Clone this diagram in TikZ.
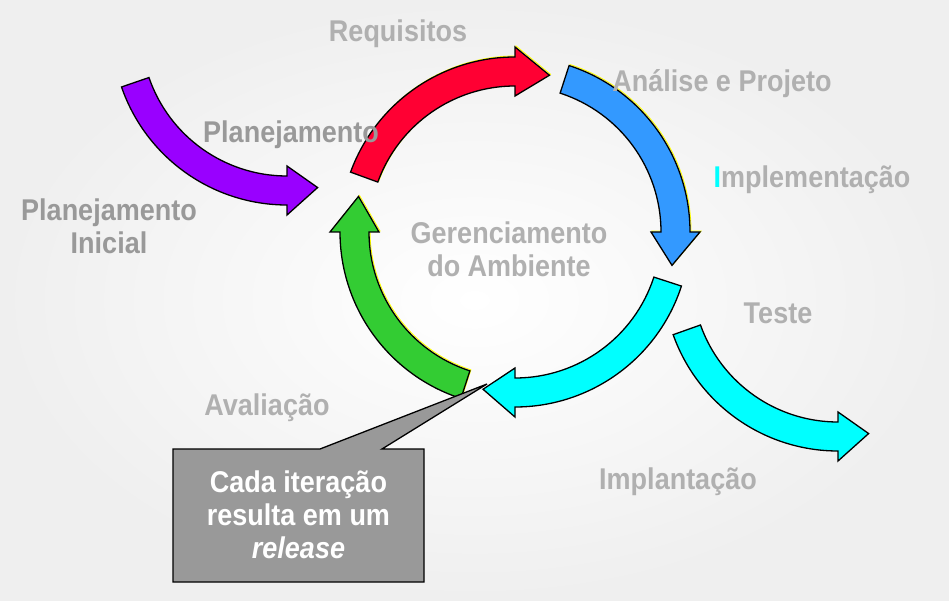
\documentclass[tikz,border=0pt]{standalone}
\usepackage{fontspec}
\setmainfont{Liberation Sans}[FakeStretch=0.9]
\usetikzlibrary{calc}
\definecolor{cred}{RGB}{255,0,51}
\definecolor{cblue}{RGB}{51,153,255}
\definecolor{ccyan}{RGB}{0,255,255}
\definecolor{cgreen}{RGB}{51,204,51}
\definecolor{cpurple}{RGB}{153,0,255}
\definecolor{labgray}{RGB}{176,176,176}
\definecolor{labdark}{RGB}{153,153,153}
\definecolor{boxgray}{RGB}{153,153,153}
\definecolor{bgedge}{RGB}{239,239,239}
\definecolor{shadowyel}{RGB}{255,255,0}
\newcommand{\ringarrow}[5]{%
  \draw[#5, shift={#4}] (#1:175) arc[start angle=#1, end angle=#2, radius=175]
    -- (#2:185) -- (#3:160.5) -- (#2:136) -- (#2:146)
    arc[start angle=#2, end angle=#1, radius=146] -- cycle;}
\tikzset{
  arrowbody/.style={draw=black, line width=1.3pt, line join=miter},
  yelshadow/.style={draw=shadowyel, line width=0.9pt},
  lab/.style={font=\fontsize{30}{33}\selectfont\bfseries, text=labgray, inner sep=0pt, align=center},
  labd/.style={lab, text=labdark},
  callout/.style={fill=boxgray, draw=black, line width=1.3pt},
  calltext/.style={font=\fontsize{30}{33}\selectfont\bfseries, text=white, align=center, inner sep=0pt}
}
\begin{document}
\begin{tikzpicture}[x=1pt,y=1pt]
\useasboundingbox (0,0) rectangle (949,600);
\shade[inner color=white, outer color=bgedge] (0,0) rectangle (949,600);
% cycle arrows (center 515,368)
\ringarrow{160}{90}{77.6}{(516,369)}{yelshadow}
\ringarrow{72}{0}{-12}{(516,369)}{yelshadow}
\ringarrow{-108}{-180}{-192.8}{(516,369)}{yelshadow}
\ringarrow{160}{90}{77.6}{(515,368)}{arrowbody, fill=cred}
\ringarrow{72}{0}{-12}{(515,368)}{arrowbody, fill=cblue}
\ringarrow{-18}{-90}{-101.5}{(515,368)}{arrowbody, fill=ccyan}
\ringarrow{-108}{-180}{-192.8}{(515,368)}{arrowbody, fill=cgreen}
% entry and exit arrows
\ringarrow{199}{270}{281}{(287,570)}{arrowbody, fill=cpurple}
\ringarrow{199.6}{270}{281}{(838,324)}{arrowbody, fill=ccyan}
% labels
\node[lab] (req) at (398,566) {Requisitos};
\node[lab] (ana) at (722,516) {Análise e Projeto};
\node[lab] (imp) at (812,420) {\textcolor{ccyan}{I}mplementação};
\node[labd] (plan) at (291,465) {Planejamento};
\node[labd] (plani) at (109,374) {Planejamento\\Inicial};
\node[lab] (ger) at (509,351) {Gerenciamento\\do Ambiente};
\node[lab] (tes) at (778,287) {Teste};
\node[lab] (ava) at (267,192) {Avaliação};
\node[lab] (impl) at (678,118) {Implantação};
% callout
\coordinate (cbnw) at (173,151);
\coordinate (cbse) at (424,18);
\coordinate (tip) at (487,216);
\filldraw[callout] (cbnw) -- ++(147,0) -- (tip) -- ($(cbnw)+(209,0)$) -- (cbnw -| cbse) -- (cbse) -- (cbnw |- cbse) -- cycle;
\node[calltext] (ct) at ($(cbnw)!0.5!(cbse)+(0,1)$) {Cada iteração\\resulta em um\\\textit{release}};
\end{tikzpicture}
\end{document}
